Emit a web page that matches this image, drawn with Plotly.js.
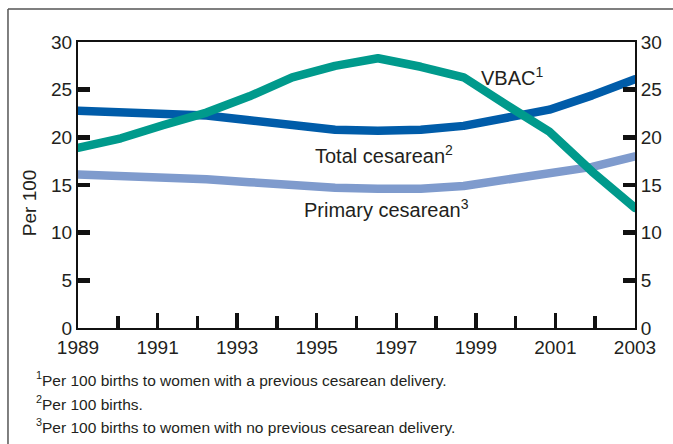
<!DOCTYPE html>
<html>
<head>
<meta charset="utf-8">
<script src="https://cdn.plot.ly/plotly-3.0.1.min.js"></script>
<style>
  html, body { margin: 0; padding: 0; background: #fff; }
  #chart { width: 673px; height: 444px; }
  .js-line { stroke-linecap: round !important; stroke-linejoin: round !important; }
</style>
</head>
<body>
<div id="chart"></div>
<script>
// ---- data ----
const years = [1989, 1990, 1991, 1992, 1993, 1994, 1995, 1996, 1997, 1998, 1999, 2000, 2001, 2002];
const totalCesarean   = [22.8, 22.7, 22.6, 22.3, 21.8, 21.2, 20.8, 20.7, 20.8, 21.2, 22.0, 22.9, 24.4, 26.1];
const primaryCesarean = [16.1, 16.0, 15.9, 15.6, 15.3, 14.9, 14.7, 14.6, 14.6, 14.9, 15.5, 16.1, 16.9, 18.0];
const vbac            = [18.9, 19.9, 21.3, 22.6, 24.3, 26.3, 27.5, 28.3, 27.4, 26.3, 23.4, 20.6, 16.4, 12.6];

const majorTickYears = [1989, 1991, 1993, 1995, 1997, 1999, 2001, 2003];
const minorTickYears = [1990, 1992, 1994, 1996, 1998, 2000, 2002];
const yTicks = [0, 5, 10, 15, 20, 25, 30];

const seriesLabels = ['Primary cesarean<sup>3</sup>', 'Total cesarean<sup>2</sup>', 'VBAC<sup>1</sup>'];
const footnotes = [
  '<sup>1</sup>Per 100 births to women with a previous cesarean delivery.',
  '<sup>2</sup>Per 100 births.',
  '<sup>3</sup>Per 100 births to women with no previous cesarean delivery.'
];
const yTitle = 'Per 100';

const FONT = '"Liberation Sans", Arial, Helvetica, sans-serif';
const TXT = '#231f20';

const traces = [
  {x: years, y: primaryCesarean, name: 'Primary cesarean', yaxis: 'y',  line: {color: '#7f9bcd', width: 8.5}},
  {x: years, y: totalCesarean,   name: 'Total cesarean',   yaxis: 'y',  line: {color: '#005ca9', width: 8.5}},
  {x: years, y: vbac,            name: 'VBAC',             yaxis: 'y2', line: {color: '#009a8c', width: 8.5}}
].map(t => Object.assign(t, {type: 'scatter', mode: 'lines', xaxis: 'x2', hoverinfo: 'skip'}));

const yAxisCommon = {
  range: [0, 30], tickvals: yTicks, ticks: 'inside', ticklen: 12, tickwidth: 4.5, tickcolor: '#111',
  showline: true, linecolor: '#111', linewidth: 2, showgrid: false, zeroline: false,
  tickfont: {family: FONT, size: 19, color: TXT}, fixedrange: true
};

const layout = {
  width: 673, height: 444,
  margin: {l: 78, r: 38, t: 42, b: 116},
  paper_bgcolor: '#fff', plot_bgcolor: '#fff',
  showlegend: false,
  font: {family: FONT, color: TXT},
  xaxis: {
    range: [1989, 2003], tickvals: majorTickYears, ticktext: majorTickYears.map(String),
    ticks: 'inside', ticklen: 15, tickwidth: 3.5, tickcolor: '#111',
    minor: {tickvals: minorTickYears, ticks: 'inside', ticklen: 12, tickwidth: 3.5, tickcolor: '#111'},
    showline: true, mirror: true, linecolor: '#111', linewidth: 2, showgrid: false, zeroline: false,
    tickfont: {family: FONT, size: 19, color: TXT}, ticklabelstandoff: 1, fixedrange: true
  },
  xaxis2: {range: [years[0], years[years.length - 1]], overlaying: 'x', anchor: 'y', visible: false, fixedrange: true},
  yaxis: Object.assign({side: 'left', anchor: 'x'}, yAxisCommon),
  yaxis2: Object.assign({side: 'right', overlaying: 'y', anchor: 'x2'}, yAxisCommon),
  shapes: [
    {type: 'line', xref: 'paper', yref: 'paper', x0: -0.1257, x1: -0.1257, y0: -0.6, y1: 1.1154, line: {color: '#555', width: 1.5}},
    {type: 'line', xref: 'paper', yref: 'paper', x0: -0.1257, x1: 1.2, y0: 1.1154, y1: 1.1154, line: {color: '#555', width: 1.5}}
  ],
  annotations: [
    {text: seriesLabels[0], x: 1994.63, y: 12.5, xref: 'x', yref: 'y', xanchor: 'left', yanchor: 'middle', showarrow: false, font: {family: FONT, size: 20, color: TXT}},
    {text: seriesLabels[1], x: 1994.9, y: 18.2, xref: 'x', yref: 'y', xanchor: 'left', yanchor: 'middle', showarrow: false, font: {family: FONT, size: 20, color: TXT}},
    {text: seriesLabels[2], x: 1999.08, y: 26.35, xref: 'x', yref: 'y', xanchor: 'left', yanchor: 'middle', showarrow: false, font: {family: FONT, size: 20, color: TXT}},
    {text: yTitle, x: -0.088, y: 0.44, xref: 'paper', yref: 'paper', xanchor: 'center', yanchor: 'middle', textangle: -90, showarrow: false, font: {family: FONT, size: 19, color: TXT}},
    {text: footnotes[0], x: -0.079, y: -0.18, xref: 'paper', yref: 'paper', xanchor: 'left', yanchor: 'middle', align: 'left', showarrow: false, font: {family: FONT, size: 15.5, color: TXT}},
    {text: footnotes[1], x: -0.079, y: -0.262, xref: 'paper', yref: 'paper', xanchor: 'left', yanchor: 'middle', align: 'left', showarrow: false, font: {family: FONT, size: 15.5, color: TXT}},
    {text: footnotes[2], x: -0.079, y: -0.341, xref: 'paper', yref: 'paper', xanchor: 'left', yanchor: 'middle', align: 'left', showarrow: false, font: {family: FONT, size: 15.5, color: TXT}}
  ]
};

Plotly.newPlot('chart', traces, layout, {displayModeBar: false, staticPlot: true});
</script>
</body>
</html>
